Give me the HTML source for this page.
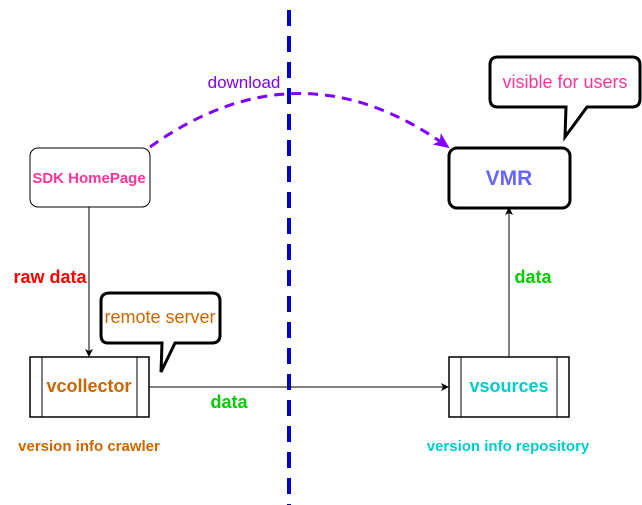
<!DOCTYPE html>
<html><head><style>body{margin:0;background:#fff}svg{display:block}</style></head>
<body>
<svg width="642" height="505" viewBox="0 0 642 505" xmlns="http://www.w3.org/2000/svg" font-family="Liberation Sans, sans-serif">
<defs>
<marker id="a" markerWidth="8" markerHeight="8" refX="7" refY="4" orient="auto" markerUnits="userSpaceOnUse"><path d="M0,0L8,4L0,8L2,4Z" fill="#000"/></marker>
<marker id="p" markerWidth="16" markerHeight="14" refX="14" refY="7" orient="auto" markerUnits="userSpaceOnUse"><path d="M0,0L16,7L0,14L4,7Z" fill="#7f00ff"/></marker>
</defs>
<line x1="289" y1="10" x2="289" y2="505" stroke="#0000cc" stroke-width="4" stroke-dasharray="16,10"/>
<path d="M150,147 Q300,40 448,147" fill="none" stroke="#7f00ff" stroke-width="3" stroke-dasharray="10,7" marker-end="url(#p)"/>
<text x="244" y="88" font-size="17" fill="#7f00ff" text-anchor="middle">download</text>
<rect x="30" y="148" width="120" height="59" rx="8" fill="#fff" stroke="#000"/>
<text x="89" y="183" font-size="15" font-weight="bold" fill="#ff3399" text-anchor="middle">SDK HomePage</text>
<line x1="89" y1="207" x2="89" y2="356" stroke="#000" marker-end="url(#a)"/>
<text x="50" y="283" font-size="18" font-weight="bold" fill="#ff0000" text-anchor="middle">raw data</text>
<rect x="30" y="357" width="119" height="60" fill="#fff" stroke="#000" stroke-width="1.5"/>
<line x1="42" y1="357" x2="42" y2="417" stroke="#000"/><line x1="137" y1="357" x2="137" y2="417" stroke="#000"/>
<text x="89" y="392" font-size="18" font-weight="bold" fill="#cc6600" text-anchor="middle">vcollector</text>
<text x="89" y="451" font-size="15" font-weight="bold" fill="#cc6600" text-anchor="middle">version info crawler</text>
<path d="M110,293 H212 Q220,293 220,301 V335 Q220,343 212,343 H175 L161,372 L162,343 H108 Q101,343 101,335 V301 Q101,293 110,293Z" fill="#fff" stroke="#000" stroke-width="3"/>
<text x="160" y="323" font-size="18" fill="#cc6600" text-anchor="middle">remote server</text>
<line x1="149" y1="387" x2="448" y2="387" stroke="#000" marker-end="url(#a)"/>
<text x="229" y="408" font-size="18" font-weight="bold" fill="#00cc00" text-anchor="middle">data</text>
<rect x="449" y="357" width="120" height="60" fill="#fff" stroke="#000" stroke-width="1.5"/>
<line x1="461" y1="357" x2="461" y2="417" stroke="#000"/><line x1="557" y1="357" x2="557" y2="417" stroke="#000"/>
<text x="509" y="392" font-size="18" font-weight="bold" fill="#00cccc" text-anchor="middle">vsources</text>
<text x="508" y="451" font-size="15" font-weight="bold" fill="#00cccc" text-anchor="middle">version info repository</text>
<line x1="509" y1="357" x2="509" y2="208" stroke="#000" marker-end="url(#a)"/>
<text x="533" y="283" font-size="18" font-weight="bold" fill="#00cc00" text-anchor="middle">data</text>
<rect x="449" y="148" width="121" height="60" rx="8" fill="#fff" stroke="#000" stroke-width="3"/>
<text x="509" y="185" font-size="21" font-weight="bold" fill="#6666ff" text-anchor="middle">VMR</text>
<path d="M498,57 H632 Q640,57 640,65 V99 Q640,107 632,107 H587 L565,137 L566,107 H498 Q490,107 490,99 V65 Q490,57 498,57Z" fill="#fff" stroke="#000" stroke-width="3"/>
<text x="565" y="88" font-size="18" fill="#ff3399" text-anchor="middle">visible for users</text>
</svg>
</body></html>
